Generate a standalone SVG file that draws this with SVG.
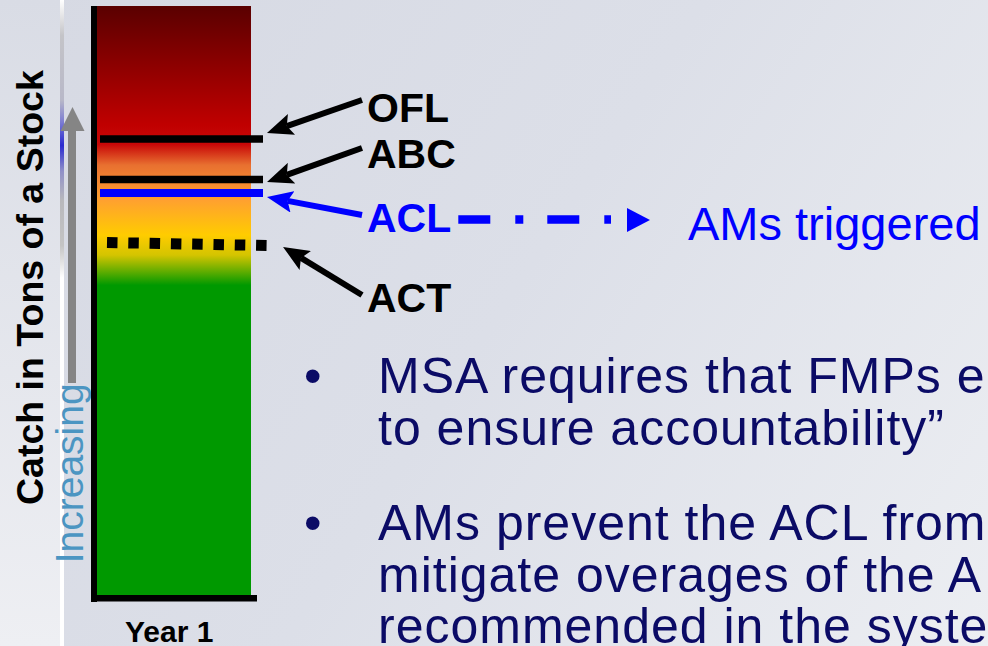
<svg xmlns="http://www.w3.org/2000/svg" width="988" height="646" viewBox="0 0 988 646">
<defs>
<linearGradient id="bg" x1="0" y1="0" x2="988" y2="646" gradientUnits="userSpaceOnUse">
<stop offset="0" stop-color="#d6d9e3"/>
<stop offset="0.5" stop-color="#dcdfe8"/>
<stop offset="1" stop-color="#eceef2"/>
</linearGradient>
<linearGradient id="strip" x1="0" y1="0" x2="0" y2="646" gradientUnits="userSpaceOnUse">
<stop offset="0" stop-color="#d9dce5"/>
<stop offset="1" stop-color="#eeeff3"/>
</linearGradient>
<linearGradient id="sep" x1="0" y1="0" x2="0" y2="646" gradientUnits="userSpaceOnUse">
<stop offset="0" stop-color="#ffffff"/>
<stop offset="0.055" stop-color="#c4c4c8"/>
<stop offset="0.155" stop-color="#b8b8c8"/>
<stop offset="0.19" stop-color="#7a7ad2"/>
<stop offset="0.225" stop-color="#2a2ad0"/>
<stop offset="0.265" stop-color="#9090c8"/>
<stop offset="0.31" stop-color="#b8b8bc"/>
<stop offset="0.38" stop-color="#c4c4c4"/>
<stop offset="0.43" stop-color="#ffffff"/>
<stop offset="1" stop-color="#ffffff"/>
</linearGradient>
<linearGradient id="bar" x1="0" y1="6" x2="0" y2="595" gradientUnits="userSpaceOnUse">
<stop offset="0" stop-color="#5a0000"/>
<stop offset="0.202" stop-color="#c00000"/>
<stop offset="0.235" stop-color="#c80808"/>
<stop offset="0.27" stop-color="#e87030"/>
<stop offset="0.329" stop-color="#ffa030"/>
<stop offset="0.389" stop-color="#ffcc00"/>
<stop offset="0.423" stop-color="#d4c400"/>
<stop offset="0.474" stop-color="#009900"/>
<stop offset="1" stop-color="#009900"/>
</linearGradient>
<marker id="ahk" viewBox="0 0 26 22" markerWidth="26" markerHeight="22" refX="5" refY="11" orient="auto" markerUnits="userSpaceOnUse">
<path d="M0,0 L26,11 L0,22 L5,11 z" fill="#000"/>
</marker>
<marker id="ahb" viewBox="0 0 26 22" markerWidth="26" markerHeight="22" refX="5" refY="11" orient="auto" markerUnits="userSpaceOnUse">
<path d="M0,0 L26,11 L0,22 L5,11 z" fill="#0000ff"/>
</marker>
<style>
.lbl{font-family:"Liberation Sans",Arial,sans-serif;font-weight:bold;font-size:41px;fill:#000}
.blue{fill:#0000ff}
.body{font-family:"Liberation Sans",Arial,sans-serif;font-size:50px;letter-spacing:1px;fill:#0b0b66}
.ptr{fill:none;stroke:#000;stroke-width:6;marker-end:url(#ahk)}
.ptrb{fill:none;stroke:#0000ff;stroke-width:6;marker-end:url(#ahb)}
</style>
</defs>

<rect x="0" y="0" width="988" height="646" fill="url(#bg)"/>
<rect x="0" y="0" width="60" height="646" fill="url(#strip)"/>
<rect x="60" y="0" width="4" height="646" fill="url(#sep)"/>

<g id="axis-label">
<text transform="translate(43,505) rotate(-90)" font-family="Liberation Sans, Arial, sans-serif" font-weight="bold" font-size="37.5" fill="#000">Catch in Tons of a Stock</text>
</g>

<g id="increasing">
<rect x="68" y="128" width="8" height="255" fill="#858585"/>
<polygon points="72.5,107 84.5,131 60.5,131" fill="#858585"/>
<text transform="translate(83.3,563.3) rotate(-90)" font-family="Liberation Sans, Arial, sans-serif" font-size="39" fill="#4b95c2">Increasing</text>
</g>

<g id="bar-chart">
<rect x="97" y="6" width="154" height="589" fill="url(#bar)"/>
<rect x="91" y="6" width="6" height="596" fill="#000"/>
<rect x="91" y="595" width="166" height="6.5" fill="#000"/>
<text x="125" y="641.7" font-family="Liberation Sans, Arial, sans-serif" font-weight="bold" font-size="30" fill="#000">Year 1</text>
</g>

<g id="level-lines">
<line x1="100" y1="139" x2="263" y2="139" stroke="#000" stroke-width="7.5"/>
<line x1="100" y1="179.6" x2="263" y2="179.6" stroke="#000" stroke-width="7.5"/>
<line x1="100" y1="193" x2="263" y2="193" stroke="#0000ff" stroke-width="8"/>
<line x1="107" y1="242.5" x2="267" y2="245.5" stroke="#000" stroke-width="11" stroke-dasharray="10.5 10.8"/>
</g>

<g id="OFL"><text class="lbl" x="367" y="121.7">OFL</text></g>
<g id="ABC"><text class="lbl" x="367" y="168.3">ABC</text></g>
<g id="ACL"><text class="lbl blue" x="367" y="231.7">ACL</text></g>
<g id="ACT"><text class="lbl" x="367" y="311.7">ACT</text></g>
<g id="AMs"><text x="688" y="240" font-family="Liberation Sans, Arial, sans-serif" font-size="47" fill="#0000ff">AMs triggered</text></g>

<g id="connectors">
<line class="ptr" x1="362" y1="100" x2="286.8" y2="126.1"/>
<line class="ptr" x1="362" y1="148" x2="286.8" y2="174.9"/>
<line class="ptrb" x1="362" y1="215" x2="287.6" y2="200.9"/>
<line class="ptr" x1="362" y1="295" x2="301" y2="257.9"/>
<line x1="458.3" y1="219.5" x2="611" y2="219.5" stroke="#0000ff" stroke-width="8.5" stroke-dasharray="32 25 8 24"/>
<polygon points="627,208 650,220 627,232" fill="#0000ff"/>
</g>

<g id="bullets">
<text class="body" x="304" y="393.3">•</text>
<text class="body" x="378" y="393.3">MSA requires that FMPs e</text>
<text class="body" x="378" y="445">to ensure accountability”</text>
<text class="body" x="304" y="540">•</text>
<text class="body" x="378" y="540">AMs prevent the ACL from</text>
<text class="body" x="378" y="591.7">mitigate overages of the A</text>
<text class="body" x="378" y="643.3">recommended in the syste</text>
</g>
</svg>
